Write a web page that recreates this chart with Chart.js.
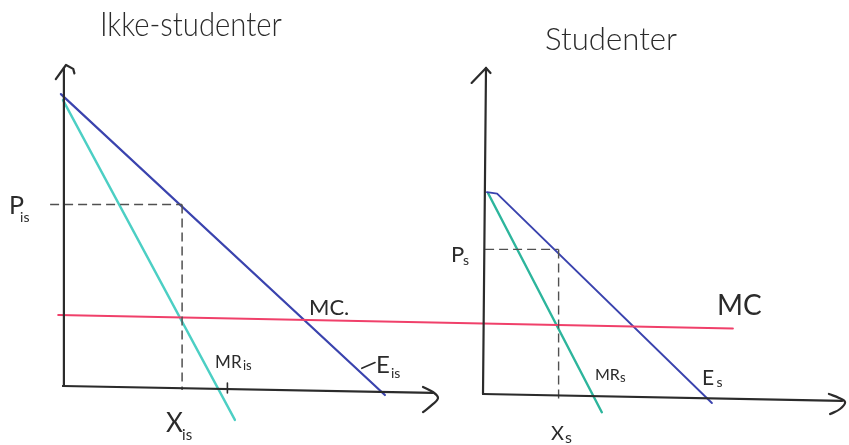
<!DOCTYPE html>
<html>
<head>
<meta charset="utf-8">
<title>Ikke-studenter / Studenter</title>
<script src="https://cdn.jsdelivr.net/npm/chart.js@4/dist/chart.umd.min.js"></script>
<style>
  html, body { margin: 0; padding: 0; background: #ffffff; }
  #wrap { position: relative; width: 849px; height: 445px; }
  canvas { display: block; }
</style>
</head>
<body>
<div id="wrap"><canvas id="chart" width="849" height="445"></canvas></div>
<script>
// ---- Ikke-studenter (left market): quantity vs price ----
const nonStudentDemand = [[-0.07, 9.73], [10.73, -0.3]];
const nonStudentMR = [[0, 9.53], [5.73, -1.13]];
const nonStudentPrice = 6.05;
const nonStudentQty = 3.97;

// ---- Studenter (right market) ----
const studentDemand = [[0.13, 6.73], [0.47, 6.68], [7.63, -0.3]];
const studentMR = [[0.17, 6.69], [3.96, -0.61]];
const studentPrice = 4.82;
const studentQty = 2.52;

// ---- common marginal cost, drawn across both markets ----
const marginalCost = [[-0.16, 2.37], [22.33, 1.92]];

// ---- hand-drawn axes with arrow heads ----
const leftYAxis = [[0, 0], [0.03, 10.6]];
const leftYArrow = [[-0.24, 10.23], [0.1, 10.7], [0.34, 10.57], [0.38, 10.42]];
const leftXAxis = [[0, 0], [12.33, -0.23]];
const leftXArrow = [[12.0, -0.03], [12.33, -0.2], [12.5, -0.4], [12.3, -0.63], [12.0, -0.87]];
const leftTick = [[5.48, 0.1], [5.48, -0.23]];

const rightYAxis = [[0, 0], [0.1, 10.87]];
const rightYArrow = [[-0.38, 10.37], [0.1, 10.87], [0.25, 10.7]];
const rightXAxis = [[0, 0], [11.97, -0.23]];
const rightXArrow = [[11.53, 0.0], [11.87, -0.13], [12.07, -0.27], [11.9, -0.5], [11.57, -0.67]];

// Both panels use 30 px per unit; origins sit at (63, 386) and (483, 394).
const PX = 30, W = 849, H = 445;
const leftOrigin = { x: 63, y: 386 };
const rightOrigin = { x: 483, y: 394 };

const ink = '#2b2b2b';
const blue = '#3a43ae';
const cyanLeft = '#4ccfc4';
const cyanRight = '#2db59c';
const red = '#f0406a';

const pts = arr => arr.map(([x, y]) => ({ x, y }));

function line(data, color, width, side, extra) {
  return Object.assign({
    data: pts(data),
    borderColor: color,
    borderWidth: width,
    pointRadius: 0,
    fill: false,
    tension: 0,
    xAxisID: side === 'L' ? 'xL' : 'xR',
    yAxisID: side === 'L' ? 'yL' : 'yR',
    borderCapStyle: 'round',
    borderJoinStyle: 'round'
  }, extra || {});
}

const dash = { borderDash: [9, 5], borderCapStyle: 'butt' };

const datasets = [
  // axes
  line(leftYAxis, ink, 2.2, 'L'),
  line(leftYArrow, ink, 2.2, 'L'),
  line(leftXAxis, ink, 2.2, 'L'),
  line(leftXArrow, ink, 2.2, 'L', { tension: 0.4 }),
  line(leftTick, ink, 1.6, 'L'),
  line(rightYAxis, ink, 2.2, 'R'),
  line(rightYArrow, ink, 2.2, 'R'),
  line(rightXAxis, ink, 2.2, 'R'),
  line(rightXArrow, ink, 2.2, 'R', { tension: 0.4 }),
  // monopoly price / quantity guides
  line([[-0.43, nonStudentPrice], [nonStudentQty, nonStudentPrice]], '#505050', 1.5, 'L', dash),
  line([[nonStudentQty, nonStudentPrice], [nonStudentQty, -0.13]], '#505050', 1.5, 'L', dash),
  line([[0.07, studentPrice], [studentQty, studentPrice]], '#505050', 1.4, 'R', dash),
  line([[studentQty, studentPrice], [studentQty, -0.2]], '#505050', 1.4, 'R', dash),
  // curves
  line(marginalCost, red, 2, 'L'),
  line(nonStudentDemand, blue, 2.2, 'L'),
  line(nonStudentMR, cyanLeft, 2.4, 'L'),
  line(studentDemand, blue, 1.9, 'R'),
  line(studentMR, cyanRight, 2.4, 'R'),
  // leader stroke to the E label
  line([[9.96, 0.59], [10.4, 0.78]], ink, 1.6, 'L')
];

// Text drawn at data positions (baseline-left anchors).
const annotations = [
  { t: 'Ikke-studenter', x: 1.23, y: 11.67, s: 34, w: 182, wt: 300, side: 'L' },
  { t: 'P', x: -1.8, y: 5.73, s: 25, side: 'L' },
  { t: 'is', x: -1.43, y: 5.47, s: 14, side: 'L' },
  { t: 'X', x: 3.43, y: -1.53, s: 26, side: 'L' },
  { t: 'is', x: 3.97, y: -1.8, s: 15, side: 'L' },
  { t: 'MR', x: 5.07, y: 0.6, s: 17, side: 'L' },
  { t: 'is', x: 6.0, y: 0.53, s: 13, side: 'L' },
  { t: 'E', x: 10.43, y: 0.43, s: 24, side: 'L' },
  { t: 'is', x: 10.93, y: 0.27, s: 14, side: 'L' },
  { t: 'MC.', x: 8.2, y: 2.37, s: 22, side: 'L' },

  { t: 'Studenter', x: 2.07, y: 11.47, s: 32, w: 132, wt: 300, side: 'R' },
  { t: 'P', x: -1.07, y: 4.4, s: 22, side: 'R' },
  { t: 's', x: -0.67, y: 4.3, s: 14, side: 'R' },
  { t: 'X', x: 2.27, y: -1.53, s: 20, side: 'R' },
  { t: 's', x: 2.73, y: -1.63, s: 16, side: 'R' },
  { t: 'MR', x: 3.73, y: 0.47, s: 16, side: 'R' },
  { t: 's', x: 4.57, y: 0.4, s: 13, side: 'R' },
  { t: 'E', x: 7.3, y: 0.3, s: 21, side: 'R' },
  { t: 's', x: 7.78, y: 0.23, s: 14, side: 'R' },
  { t: 'MC', x: 7.8, y: 2.63, s: 28, side: 'R' }
];

const textPlugin = {
  id: 'handText',
  afterDatasetsDraw(chart) {
    const ctx = chart.ctx;
    ctx.save();
    ctx.fillStyle = ink;
    ctx.textBaseline = 'alphabetic';
    ctx.textAlign = 'left';
    annotations.forEach(a => {
      const xs = chart.scales[a.side === 'L' ? 'xL' : 'xR'];
      const ys = chart.scales[a.side === 'L' ? 'yL' : 'yR'];
      ctx.font = (a.wt || 400) + ' ' + a.s + 'px Lato, "Open Sans", "DejaVu Sans", sans-serif';
      const px = xs.getPixelForValue(a.x), py = ys.getPixelForValue(a.y);
      if (a.w) ctx.fillText(a.t, px, py, a.w); else ctx.fillText(a.t, px, py);
    });
    ctx.restore();
  }
};

const whiteBg = {
  id: 'whiteBg',
  beforeDraw(chart) {
    const c = chart.ctx;
    c.save();
    c.fillStyle = '#ffffff';
    c.fillRect(0, 0, chart.width, chart.height);
    c.restore();
  }
};

// Scale bounds put each panel's origin at its place on the full-size chart area.
function bounds(origin) {
  return {
    x: { min: -origin.x / PX, max: (W - origin.x) / PX },
    y: { min: -(H - origin.y) / PX, max: origin.y / PX }
  };
}
const bL = bounds(leftOrigin), bR = bounds(rightOrigin);
const hidden = { display: false, grid: { display: false } };

new Chart(document.getElementById('chart'), {
  type: 'line',
  data: { datasets },
  options: {
    responsive: false,
    animation: false,
    devicePixelRatio: 1,
    layout: { padding: 0, autoPadding: false },
    plugins: { legend: { display: false }, tooltip: { enabled: false } },
    events: [],
    scales: {
      xL: Object.assign({ type: 'linear', position: 'bottom' }, bL.x, hidden),
      yL: Object.assign({ type: 'linear', position: 'left' }, bL.y, hidden),
      xR: Object.assign({ type: 'linear', position: 'bottom' }, bR.x, hidden),
      yR: Object.assign({ type: 'linear', position: 'left' }, bR.y, hidden)
    }
  },
  plugins: [whiteBg, textPlugin]
});
</script>
</body>
</html>
